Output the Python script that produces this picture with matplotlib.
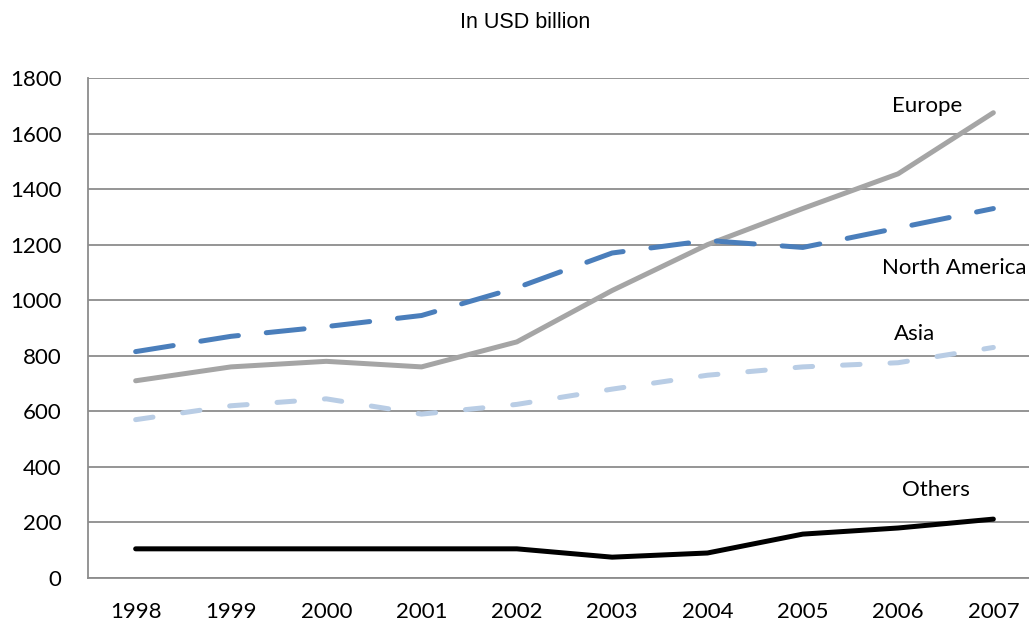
import matplotlib
matplotlib.use("Agg")
import matplotlib.pyplot as plt

years = ['1998', '1999', '2000', '2001', '2002', '2003', '2004', '2005', '2006', '2007']
europe = [710, 760, 780, 760, 850, 1035, 1200, 1330, 1455, 1675]
north_america = [815, 870, 905, 945, 1045, 1170, 1215, 1190, 1260, 1330]
asia = [570, 620, 645, 590, 625, 680, 730, 760, 775, 830]
others = [105, 105, 105, 105, 105, 75, 90, 158, 180, 212]

fig = plt.figure(figsize=(10.29, 6.29), dpi=100)
# axes run a little past the right edge, like the cropped original
ax = fig.add_axes([88 / 1029, 51 / 629, 953 / 1029, 500 / 629])
x = list(range(len(years)))

lw = 3.6
ax.plot(x, europe, color='#A5A5A5', lw=lw, solid_capstyle='round', solid_joinstyle='round', zorder=3)
ax.plot(x, north_america, color='#4A7EBB', lw=lw, dashes=(7.6, 5.6),
        dash_capstyle='round', zorder=4)
ax.plot(x, asia, color='#B9CDE5', lw=lw, dashes=(3.5, 6.0),
        dash_capstyle='round', zorder=3)
ax.plot(x, others, color='black', lw=lw, solid_capstyle='round', zorder=3)

ax.set_xlim(-0.5, 9.5)
ax.set_ylim(0, 1800)
ax.set_yticks(range(0, 1801, 200))
ax.set_xticks(x)
ax.set_xticklabels(years)
ax.grid(axis='y', color='#8C8C8C', lw=1.3)
ax.set_axisbelow(True)
for s in ['top', 'right']:
    ax.spines[s].set_visible(False)
for s in ['left', 'bottom']:
    ax.spines[s].set_color('#8C8C8C')
    ax.spines[s].set_linewidth(1.3)
ax.tick_params(length=0, labelsize=16)
for lab in ax.get_xticklabels() + ax.get_yticklabels():
    lab.set_fontfamily('Lato')
ax.tick_params(axis='y', pad=19)
ax.tick_params(axis='x', pad=17)

lab_font = dict(fontsize=16, family='Lato', color='black', va='center')
ax.text(7.94, 1700, 'Europe', ha='left', **lab_font)
ax.text(7.83, 1115, 'North America', ha='left', **lab_font)
ax.text(8.17, 880, 'Asia', ha='center', **lab_font)
ax.text(8.4, 315, 'Others', ha='center', **lab_font)

fig.text(525 / 1029, 1 - 22 / 629, 'In USD billion', ha='center', va='center',
         fontsize=15.5, family='Liberation Sans')

fig.savefig('out.png', dpi=100)
